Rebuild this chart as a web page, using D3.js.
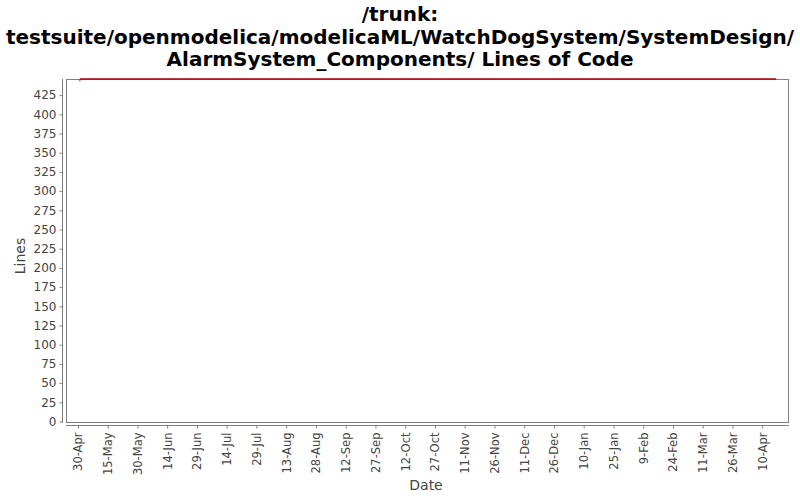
<!DOCTYPE html>
<html>
<head>
<meta charset="utf-8">
<script src="https://cdn.jsdelivr.net/npm/d3@7"></script>
<style>
  body { margin: 0; background: #fff; }
  .tick text { font-family: "DejaVu Sans", sans-serif; fill: #444; }
</style>
</head>
<body>
<div id="chart"></div>
<script>
// DATA
// ------------------------------------------------------------------

var titleLines = ["/trunk:",
    "testsuite/openmodelica/modelicaML/WatchDogSystem/SystemDesign/",
    "AlarmSystem_Components/ Lines of Code"];

var seriesDates = ["2008-05-01", "2008-05-01", "2009-04-17"];
var seriesLines = [443, 446, 446];

var yTicks = [0, 25, 50, 75, 100, 125, 150, 175, 200, 225, 250, 275, 300,
              325, 350, 375, 400, 425];

var xTickLabels = ["30-Apr", "15-May", "30-May", "14-Jun", "29-Jun", "14-Jul",
  "29-Jul", "13-Aug", "28-Aug", "12-Sep", "27-Sep", "12-Oct", "27-Oct",
  "11-Nov", "26-Nov", "11-Dec", "26-Dec", "10-Jan", "25-Jan", "9-Feb",
  "24-Feb", "11-Mar", "26-Mar", "10-Apr"];
var xTickStart = "2008-04-30";   // ticks every 15 days from here

// CANVAS
// ------------------------------------------------------------------

var width = 800,
    height = 500;

var svg = d3.select("#chart")
    .append("svg")
    .attr("width", width)
    .attr("height", height);

var plot = { left: 66, right: 788, top: 79, bottom: 422 };

var parse = d3.utcParse("%Y-%m-%d");

var xScale = d3.scaleUtc()
    .domain([parse("2008-04-24"), parse("2009-04-23")])
    .range([plot.left, plot.right]);

var yScale = d3.scaleLinear()
    .domain([0, 446])
    .range([plot.bottom - 0.5, plot.top]);

// TITLE
// ------------------------------------------------------------------

svg.append("g")
    .selectAll("text")
    .data(titleLines)
    .join("text")
    .attr("x", width / 2)
    .attr("y", function(d, i) { return 21 + i * 22.5; })
    .attr("text-anchor", "middle")
    .style("font-family", "'DejaVu Sans', sans-serif")
    .style("font-weight", "bold")
    .style("font-size", "20px")
    .text(function(d) { return d; });

// PLOT AREA
// ------------------------------------------------------------------

svg.append("rect")
    .attr("x", plot.left + 0.5)
    .attr("y", plot.top + 0.5)
    .attr("width", plot.right - plot.left)
    .attr("height", plot.bottom - plot.top)
    .attr("fill", "#fff")
    .attr("stroke", "#808080");

// AXES
// ------------------------------------------------------------------

var yAxis = d3.axisLeft(yScale)
    .tickValues(yTicks)
    .tickSize(3)
    .tickPadding(3);

var yG = svg.append("g")
    .attr("transform", "translate(62.5,0)")
    .call(yAxis);
yG.select(".domain").attr("stroke", "#808080").attr("d",
    "M0," + plot.top + "V" + (plot.bottom + 1));
yG.selectAll(".tick line").attr("stroke", "#808080");
yG.selectAll(".tick text").style("font-size", "12px");

var xTickDates = xTickLabels.map(function(d, i) {
  return d3.utcDay.offset(parse(xTickStart), i * 15);
});

var xAxis = d3.axisBottom(xScale)
    .tickValues(xTickDates)
    .tickFormat(function(d, i) { return xTickLabels[i]; })
    .tickSize(3)
    .tickPadding(3);

var xG = svg.append("g")
    .attr("transform", "translate(0,425.5)")
    .call(xAxis);
xG.select(".domain").attr("stroke", "#808080").attr("d",
    "M" + plot.left + ",0H" + (plot.right + 1));
xG.selectAll(".tick line").attr("stroke", "#808080");
xG.selectAll(".tick text")
    .style("font-size", "11.5px")
    .attr("transform", "rotate(-90)")
    .attr("text-anchor", "end")
    .attr("x", -7)
    .attr("y", 0)
    .attr("dy", "0.35em");

// LABELS
// ------------------------------------------------------------------

svg.append("text")
    .attr("transform", "rotate(-90)")
    .attr("x", -256)
    .attr("y", 25)
    .attr("text-anchor", "middle")
    .style("font-family", "'DejaVu Sans', sans-serif")
    .style("font-size", "14px")
    .style("fill", "#444")
    .text("Lines");

svg.append("text")
    .attr("x", 426)
    .attr("y", 490)
    .attr("text-anchor", "middle")
    .style("font-family", "'DejaVu Sans', sans-serif")
    .style("font-size", "14px")
    .style("fill", "#444")
    .text("Date");

// SERIES
// ------------------------------------------------------------------

var points = seriesDates.map(function(d, i) {
  return [parse(d), seriesLines[i]];
});

var line = d3.line()
    .x(function(d) { return xScale(d[0]); })
    .y(function(d) { return yScale(d[1]); });

svg.append("path")
    .attr("d", line(points))
    .attr("fill", "none")
    .attr("stroke", "#ff0000")
    .attr("stroke-width", 1);

// The flat run sits on the plot border, where it reads dark red
svg.append("path")
    .attr("d", line(points.slice(1)))
    .attr("fill", "none")
    .attr("stroke", "#880000")
    .attr("stroke-width", 1.2);
</script>
</body>
</html>
